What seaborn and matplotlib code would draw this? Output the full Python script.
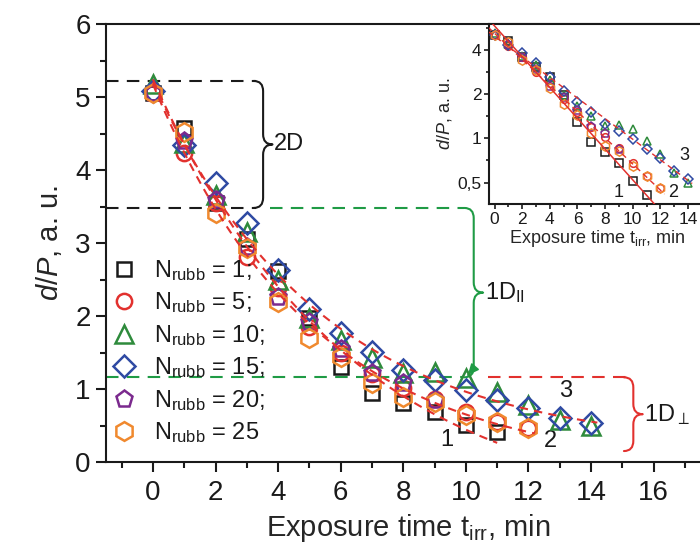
import numpy as np
import pandas as pd
import matplotlib
matplotlib.use("Agg")
import matplotlib.pyplot as plt
import seaborn as sns
from matplotlib.path import Path
from matplotlib.patches import PathPatch
from matplotlib.ticker import MultipleLocator, LogLocator, FuncFormatter, NullFormatter

# ---------------- data ----------------
t_n1 = [0, 1, 2, 3, 4, 5, 6, 7, 8, 9, 10, 11]
dp_n1 = [5.05, 4.57, 3.55, 3.05, 2.62, 1.97, 1.30, 0.95, 0.81, 0.68, 0.51, 0.41]
t_n5 = [0, 1, 2, 3, 4, 5, 6, 7, 8, 9, 10, 11, 12]
dp_n5 = [5.05, 4.23, 3.55, 2.81, 2.38, 1.85, 1.50, 1.20, 1.02, 0.86, 0.68, 0.55, 0.46]
t_n10 = [0, 1, 2, 3, 4, 5, 6, 7, 8, 9, 10, 11, 12, 13, 14]
dp_n10 = [5.18, 4.37, 3.66, 3.15, 2.50, 1.97, 1.67, 1.42, 1.22, 1.23, 1.15, 0.96, 0.78, 0.58, 0.50]
t_n15 = [0, 1, 2, 3, 4, 5, 6, 7, 8, 9, 10, 11, 12, 13, 14]
dp_n15 = [5.08, 4.34, 3.82, 3.27, 2.63, 2.10, 1.77, 1.51, 1.26, 1.12, 0.99, 0.85, 0.74, 0.60, 0.53]
t_n20 = [0, 1, 2, 3, 4, 5, 6, 7, 8, 9]
dp_n20 = [5.05, 4.40, 3.59, 2.95, 2.26, 1.92, 1.55, 1.22, 1.08, 0.85]
t_n25 = [0, 1, 2, 3, 4, 5, 6, 7, 8, 9, 10, 11, 12]
dp_n25 = [5.05, 4.52, 3.41, 2.93, 2.19, 1.70, 1.44, 1.08, 0.89, 0.82, 0.65, 0.55, 0.46]

n_rubb = [1, 5, 10, 15, 20, 25]
legend_labels = [r"N$_{\rm rubb}$ = 1;", r"N$_{\rm rubb}$ = 5;", r"N$_{\rm rubb}$ = 10;",
                 r"N$_{\rm rubb}$ = 15;", r"N$_{\rm rubb}$ = 20;", r"N$_{\rm rubb}$ = 25"]
fit_groups = {"1": [1], "2": [5, 20, 25], "3": [10, 15]}

# levels of the dimensional regimes
level_2d_top = 5.22
level_2d_bottom = 3.48
level_1d = 1.16

# ---------------- styling ----------------
sns.set_theme(style="ticks")
plt.rcParams["font.family"] = ["Liberation Sans", "DejaVu Sans"]
plt.rcParams["mathtext.fontset"] = "custom"
plt.rcParams["mathtext.rm"] = "Liberation Sans"
plt.rcParams["mathtext.it"] = "Liberation Sans:italic"
plt.rcParams["mathtext.bf"] = "Liberation Sans:bold"
plt.rcParams["axes.linewidth"] = 1.5
plt.rcParams["text.color"] = "#1a1a1a"

colors = ["#1a1a1a", "#e2312e", "#2e8b3c", "#2f4aa3", "#7b2a8e", "#f0892e"]
markers = ["s", "o", "^", "D", "p", "h"]
msizes = [10.5, 11, 12.5, 11, 12.5, 13.5]
red = "#e2312e"
green = "#1f9b45"
black = "#1a1a1a"

series_t = [t_n1, t_n5, t_n10, t_n15, t_n20, t_n25]
series_dp = [dp_n1, dp_n5, dp_n10, dp_n15, dp_n20, dp_n25]
frames = []
for n, t, dp in zip(n_rubb, series_t, series_dp):
    frames.append(pd.DataFrame({"N": n, "t": t, "dp": dp}))
df = pd.concat(frames, ignore_index=True)

fig = plt.figure(figsize=(7, 5.6), dpi=100)
ax = fig.add_axes([106 / 700, 98 / 560, 604 / 700, 438 / 560])


def group_data(group):
    sub = df[df["N"].isin(fit_groups[group])]
    return sub["t"].to_numpy(float), sub["dp"].to_numpy(float)


def fit_exp(group, x0, x1):
    """pure exponential fit (straight line in log scale)"""
    t, y = group_data(group)
    k, b = np.polyfit(t, np.log(y), 1)
    xs = np.linspace(x0, x1, 100)
    return xs, np.exp(b + k * xs)


def fit_exp_offset(group, x0, x1):
    """least-squares fit y = a*exp(-k t) + c (grid over k, linear in a and c)"""
    t, y = group_data(group)
    best = None
    for k in np.linspace(0.03, 0.8, 400):
        A = np.column_stack([np.exp(-k * t), np.ones_like(t)])
        coef, *_ = np.linalg.lstsq(A, y, rcond=None)
        err = np.sum((A @ coef - y) ** 2)
        if best is None or err < best[0]:
            best = (err, k, coef)
    _, k, (a, c) = best
    xs = np.linspace(x0, x1, 100)
    return xs, a * np.exp(-k * xs) + c


def brace(axis, x, y0, y1, w, r, color, lw=1.5):
    ym = 0.5 * (y0 + y1)
    verts = [(x - w, y1), (x, y1), (x, y1 - r), (x, ym + r), (x, ym), (x + w, ym),
             (x, ym), (x, ym - r), (x, y0 + r), (x, y0), (x - w, y0)]
    codes = [Path.MOVETO, Path.CURVE3, Path.CURVE3, Path.LINETO, Path.CURVE3, Path.CURVE3,
             Path.CURVE3, Path.CURVE3, Path.LINETO, Path.CURVE3, Path.CURVE3]
    axis.add_patch(PathPatch(Path(verts, codes), fill=False, edgecolor=color, lw=lw,
                             capstyle="round", joinstyle="round", zorder=2))


# ---------------- main plot ----------------
for i, n in enumerate(n_rubb):
    sub = df[df["N"] == n]
    sns.lineplot(data=sub, x="t", y="dp", ax=ax, linestyle="", marker=markers[i],
                 markersize=msizes[i], markerfacecolor="none", markeredgecolor=colors[i],
                 markeredgewidth=1.8, color=colors[i], errorbar=None, label=legend_labels[i],
                 zorder=3 + i * 0.1)

fit_ends = {"1": 11.0, "2": 12.2, "3": 14.2}
for g in ["1", "2", "3"]:
    xs, ys = fit_exp_offset(g, 0.0, fit_ends[g])
    ax.plot(xs, ys, color=red, lw=1.5, linestyle=(0, (4, 3)), zorder=4)

dash = (0, (6, 4))
ax.plot([-1.5, 3.3], [level_2d_top] * 2, color=black, lw=1.5, linestyle=dash, zorder=2)
ax.plot([-1.5, 3.3], [level_2d_bottom] * 2, color=black, lw=1.5, linestyle=dash, zorder=2)
brace(ax, 3.52, level_2d_bottom, level_2d_top, 0.3, 0.14, black)
ax.text(3.85, 0.5 * (level_2d_bottom + level_2d_top), "2D", fontsize=17, va="center", ha="left")

ax.plot([3.75, 9.95], [level_2d_bottom] * 2, color=green, lw=1.5, linestyle=dash, zorder=2)
ax.plot([-1.5, 9.95], [level_1d] * 2, color=green, lw=1.5, linestyle=dash, zorder=2)
brace(ax, 10.25, level_1d, level_2d_bottom, 0.3, 0.14, green)
ax.annotate("", xy=(10.0, level_1d), xytext=(10.12, level_1d + 0.06),
            arrowprops=dict(arrowstyle="-|>,head_length=0.55,head_width=0.25", color=green, lw=1.2))
ax.text(10.6, 0.5 * (level_1d + level_2d_bottom), r"1D$_{\rm II}$", fontsize=17, va="center", ha="left")

ax.plot([10.7, 15.1], [level_1d] * 2, color=red, lw=1.5, linestyle=dash, zorder=2)
brace(ax, 15.35, 0.15, level_1d, 0.3, 0.14, red)
ax.text(15.7, 0.5 * (0.15 + level_1d), r"1D$_{\perp}$", fontsize=17, va="center", ha="left")

ax.text(9.4, 0.3, "1", fontsize=17, ha="center", va="center")
ax.text(12.7, 0.29, "2", fontsize=17, ha="center", va="center")
ax.text(13.2, 0.97, "3", fontsize=17, ha="center", va="center")

ax.set_xlim(-1.5, 17.8)
ax.set_ylim(0, 6)
ax.xaxis.set_major_locator(MultipleLocator(2))
ax.xaxis.set_minor_locator(MultipleLocator(1))
ax.yaxis.set_major_locator(MultipleLocator(1))
ax.yaxis.set_minor_locator(MultipleLocator(0.5))
ax.tick_params(which="both", direction="out", width=1.5, colors=black, top=False, right=False)
ax.tick_params(which="major", length=7, labelsize=20, pad=4)
ax.tick_params(which="minor", length=4)
ax.tick_params(axis="x", which="major", pad=6)
for s in ax.spines.values():
    s.set_visible(True)
    s.set_color(black)
    s.set_linewidth(1.5)
ax.set_xlabel(r"Exposure time t$_{\rm irr}$, min", fontsize=21, labelpad=4)
ax.set_ylabel(r"$d/P$, a. u.", fontsize=21, labelpad=8)

leg = ax.legend(loc="upper left", bbox_to_anchor=(112 / 700, 1 - 258 / 560),
                bbox_transform=fig.transFigure, frameon=False, fontsize=17,
                handlelength=1.0, handletextpad=0.8, labelspacing=0.32,
                borderpad=0, borderaxespad=0, numpoints=1)

# ---------------- inset ----------------
axin = fig.add_axes([489 / 700, (560 - 204) / 560, (706 - 489) / 700, 180 / 560])
axin.set_facecolor("white")
for i, n in enumerate(n_rubb):
    sub = df[df["N"] == n]
    sns.lineplot(data=sub, x="t", y="dp", ax=axin, linestyle="", marker=markers[i],
                 markersize=msizes[i] * 0.5, markerfacecolor="none", markeredgecolor=colors[i],
                 markeredgewidth=1.1, color=colors[i], errorbar=None, legend=False,
                 zorder=3 + i * 0.1)
xs, ys = fit_exp("1", -1.0, 13.0)
axin.plot(xs, ys, color=red, lw=1.1, zorder=4)
xs, ys = fit_exp("2", -1.0, 12.3)
axin.plot(xs, ys, color=red, lw=1.0, linestyle=(0, (4, 3)), zorder=4)
xs, ys = fit_exp("3", -1.0, 14.3)
axin.plot(xs, ys, color=red, lw=1.0, linestyle=(0, (4, 3)), zorder=4)

axin.text(9.0, 0.43, "1", fontsize=13, ha="center", va="center")
axin.text(12.9, 0.43, "2", fontsize=13, ha="center", va="center")
axin.text(13.7, 0.76, "3", fontsize=13, ha="center", va="center")

axin.set_yscale("log")
axin.set_ylim(0.357, 6.0)
axin.set_xlim(-0.4, 15.3)
axin.yaxis.set_major_locator(LogLocator(base=2))
axin.yaxis.set_minor_locator(LogLocator(base=2, subs=(np.sqrt(2),)))
axin.yaxis.set_major_formatter(FuncFormatter(lambda v, p: ("%g" % v).replace(".", ",")))
axin.yaxis.set_minor_formatter(NullFormatter())
axin.xaxis.set_major_locator(MultipleLocator(2))
axin.xaxis.set_minor_locator(MultipleLocator(1))
axin.tick_params(which="both", direction="out", width=1.2, colors=black, top=False, right=False)
axin.tick_params(which="major", length=3.5, labelsize=12.5, pad=2)
axin.tick_params(which="minor", length=2)
for s in axin.spines.values():
    s.set_visible(True)
    s.set_color(black)
    s.set_linewidth(1.5)
axin.set_xlabel(r"Exposure time t$_{\rm irr}$, min", fontsize=13, labelpad=1)
axin.set_ylabel(r"$d/P$, a. u.", fontsize=13, labelpad=2)

fig.savefig("out.png", dpi=100)
